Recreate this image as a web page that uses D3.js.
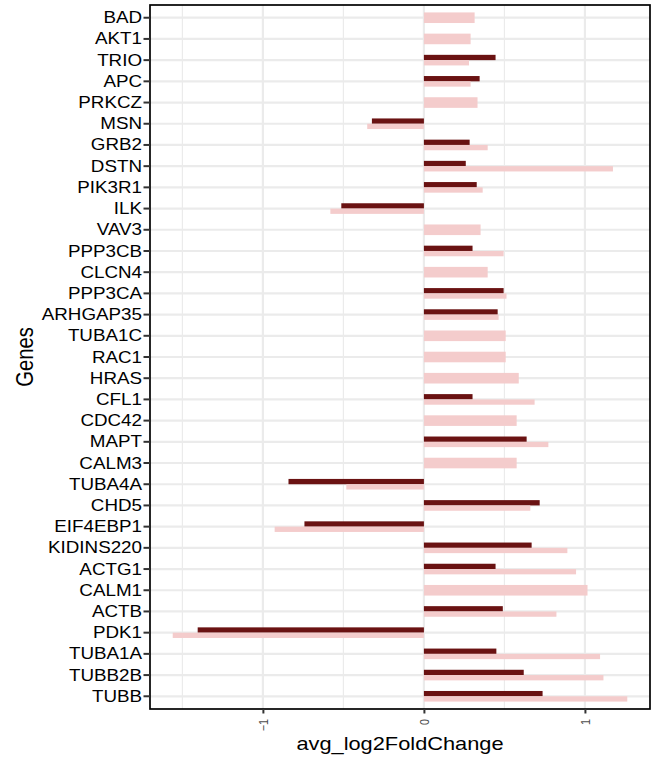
<!DOCTYPE html>
<html>
<head>
<meta charset="utf-8">
<script src="https://cdn.jsdelivr.net/npm/d3@7"></script>
<style>
  html, body { margin: 0; padding: 0; background: #ffffff; }
  svg { display: block; }
</style>
</head>
<body>
<svg id="chart" width="660" height="763"></svg>
<script>
// ---- data (top to bottom) ----
const genes = ["BAD","AKT1","TRIO","APC","PRKCZ","MSN","GRB2","DSTN","PIK3R1","ILK",
  "VAV3","PPP3CB","CLCN4","PPP3CA","ARHGAP35","TUBA1C","RAC1","HRAS","CFL1","CDC42",
  "MAPT","CALM3","TUBA4A","CHD5","EIF4EBP1","KIDINS220","ACTG1","CALM1","ACTB","PDK1",
  "TUBA1A","TUBB2B","TUBB"];
const darkValues = [null,null,0.445,0.346,null,-0.323,0.284,0.26,0.328,-0.513,
  null,0.302,null,0.495,0.458,null,null,null,0.302,null,
  0.638,null,-0.841,0.719,-0.742,0.669,0.445,null,0.49,-1.405,
  0.45,0.62,0.737];
const pinkValues = [0.315,0.29,0.28,0.29,0.333,-0.352,0.396,1.174,0.365,-0.581,
  0.352,0.495,0.396,0.513,0.464,0.508,0.508,0.589,0.6875,0.576,
  0.773,0.576,-0.482,0.661,-0.927,0.891,0.945,1.016,0.823,-1.56,
  1.094,1.115,1.263];
const xTicks = [-1, 0, 1];
const xTickLabels = ["\u22121", "0", "1"];
const xMinor = [-1.5, -0.5, 0.5, 1.5];
const xTitle = "avg_log2FoldChange";
const yTitle = "Genes";

// ---- layout ----
const svg = d3.select("#chart");
const P = { left: 150, right: 650, top: 5, bottom: 709 };
const SY = 0.86; // vertical text squash
const FONT = "'Liberation Sans', Arial, Helvetica, sans-serif";
const DARK = "#6A1212", PINK = "#F4CCCC";

const all = darkValues.filter(v => v !== null).concat(pinkValues, [0]);
const lo = d3.min(all), hi = d3.max(all), pad = (hi - lo) * 0.05;
const x = d3.scaleLinear().domain([lo - pad, hi + pad]).range([P.left, P.right]);
const y = d3.scaleBand().domain(genes).range([P.top, P.bottom])
  .paddingInner(0.5).paddingOuter(0.35);

// grid
const grid = svg.append("g");
grid.selectAll("line.minor").data(xMinor.filter(v => x(v) > P.left && x(v) < P.right))
  .join("line").attr("x1", d => x(d)).attr("x2", d => x(d))
  .attr("y1", P.top).attr("y2", P.bottom)
  .attr("stroke", "#EBEBEB").attr("stroke-width", 1.2);
grid.selectAll("line.majx").data(xTicks).join("line")
  .attr("x1", d => x(d)).attr("x2", d => x(d))
  .attr("y1", P.top).attr("y2", P.bottom)
  .attr("stroke", "#EBEBEB").attr("stroke-width", 2.2);
grid.selectAll("line.majy").data(genes).join("line")
  .attr("x1", P.left).attr("x2", P.right)
  .attr("y1", d => y(d) + y.bandwidth() / 2).attr("y2", d => y(d) + y.bandwidth() / 2)
  .attr("stroke", "#EBEBEB").attr("stroke-width", 2.2);

// bars
const bw = y.bandwidth();
const rows = genes.map((g, i) => ({ g, dark: darkValues[i], pink: pinkValues[i] }));
const bars = svg.append("g");
rows.forEach(r => {
  const hasDark = r.dark !== null;
  if (hasDark) {
    bars.append("rect")
      .attr("x", x(Math.min(0, r.dark))).attr("width", Math.abs(x(r.dark) - x(0)))
      .attr("y", y(r.g)).attr("height", bw / 2).attr("fill", DARK);
  }
  bars.append("rect")
    .attr("x", x(Math.min(0, r.pink))).attr("width", Math.abs(x(r.pink) - x(0)))
    .attr("y", hasDark ? y(r.g) + bw / 2 : y(r.g)).attr("height", hasDark ? bw / 2 : bw)
    .attr("fill", PINK);
});

// panel border
svg.append("rect").attr("x", P.left).attr("y", P.top)
  .attr("width", P.right - P.left).attr("height", P.bottom - P.top)
  .attr("fill", "none").attr("stroke", "#000").attr("stroke-width", 1.7);

// y axis
const yAxis = svg.append("g").attr("transform", `translate(${P.left},0)`)
  .call(d3.axisLeft(y).tickSize(6.5).tickSizeOuter(0));
yAxis.select(".domain").remove();
yAxis.selectAll(".tick line").attr("stroke", "#333").attr("stroke-width", 2);
yAxis.selectAll(".tick text")
  .attr("x", null).attr("dy", null)
  .attr("transform", `translate(-8,0) scale(1,${SY})`)
  .attr("dominant-baseline", "central")
  .attr("fill", "#000").attr("font-family", FONT).attr("font-size", 18.8);

// x axis
const xAxis = svg.append("g").attr("transform", `translate(0,${P.bottom})`)
  .call(d3.axisBottom(x).tickValues(xTicks).tickSize(4.5).tickSizeOuter(0)
    .tickFormat((d, i) => xTickLabels[i]));
xAxis.select(".domain").remove();
xAxis.selectAll(".tick line").attr("stroke", "#333").attr("stroke-width", 2);
xAxis.selectAll(".tick text")
  .attr("y", null).attr("dy", null)
  .attr("transform", `translate(0,10) scale(1,${SY}) rotate(-90)`)
  .attr("text-anchor", "end").attr("dominant-baseline", "central")
  .attr("fill", "#4D4D4D").attr("font-family", FONT).attr("font-size", 12.5);

// titles
svg.append("text")
  .attr("transform", `translate(${(P.left + P.right) / 2},750) scale(1,${SY})`)
  .attr("text-anchor", "middle").attr("font-family", FONT).attr("font-size", 21.8)
  .attr("fill", "#000").text(xTitle);
svg.append("text")
  .attr("transform", `translate(32.5,${(P.top + P.bottom) / 2}) scale(1,${SY}) rotate(-90)`)
  .attr("text-anchor", "middle").attr("font-family", FONT).attr("font-size", 23.5)
  .attr("fill", "#000").text(yTitle);
</script>
</body>
</html>
